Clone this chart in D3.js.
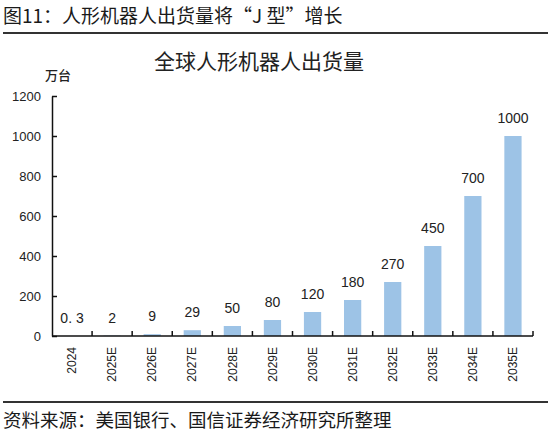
<!DOCTYPE html>
<html>
<head>
<meta charset="utf-8">
<script src="https://cdn.jsdelivr.net/npm/d3@7"></script>
<style>
  body { margin: 0; background: #fff; }
  svg { display: block; }
</style>
</head>
<body>
<div id="maincontent"></div>
<script>
var width = 550, height = 444;

// data
var categories = ["2024", "2025E", "2026E", "2027E", "2028E", "2029E", "2030E", "2031E", "2032E", "2033E", "2034E", "2035E"];
var shipments = [0.3, 2, 9, 29, 50, 80, 120, 180, 270, 450, 700, 1000];
var valueLabels = ["0. 3", "2", "9", "29", "50", "80", "120", "180", "270", "450", "700", "1000"];
var yTicks = [0, 200, 400, 600, 800, 1000, 1200];

var cjk = "'Noto Sans CJK SC', sans-serif";
var latin = "'Liberation Sans', Arial, sans-serif";

var svg = d3.select("#maincontent").append("svg")
    .attr("width", width)
    .attr("height", height);

// header + rules
svg.append("text")
    .attr("x", 3).attr("y", 23)
    .style("font-family", cjk).style("font-size", "19px").style("font-weight", 400)
    .attr("fill", "#1a1a1a")
    .text("图11：人形机器人出货量将“J 型”增长");

svg.append("line").attr("x1", 3).attr("x2", 548).attr("y1", 33).attr("y2", 33)
    .attr("stroke", "#333").attr("stroke-width", 2);

svg.append("line").attr("x1", 3).attr("x2", 548).attr("y1", 402).attr("y2", 402)
    .attr("stroke", "#333").attr("stroke-width", 2);

svg.append("text")
    .attr("x", 3).attr("y", 427)
    .style("font-family", cjk).style("font-size", "18.5px")
    .attr("fill", "#1a1a1a")
    .text("资料来源：美国银行、国信证券经济研究所整理");

// chart title
svg.append("text")
    .attr("x", 259).attr("y", 69)
    .attr("text-anchor", "middle")
    .style("font-family", cjk).style("font-size", "21px")
    .attr("fill", "#222")
    .text("全球人形机器人出货量");

svg.append("text")
    .attr("x", 45).attr("y", 80)
    .style("font-family", cjk).style("font-size", "13px").style("font-weight", 500)
    .attr("fill", "#222")
    .text("万台");

var x = d3.scaleBand()
    .domain(categories)
    .range([52, 533]);

var y = d3.scaleLinear()
    .domain([0, 1200])
    .range([336, 96]);

var barW = x.bandwidth() * 0.43;

svg.selectAll(".bar")
    .data(shipments)
    .enter().append("rect")
    .attr("class", "bar")
    .attr("x", function (d, i) { return x(categories[i]) + (x.bandwidth() - barW) / 2; })
    .attr("y", function (d) { return y(d); })
    .attr("width", barW)
    .attr("height", function (d) { return y(0) - y(d); })
    .attr("fill", "#9dc3e6");

svg.selectAll(".vlabel")
    .data(shipments)
    .enter().append("text")
    .attr("class", "vlabel")
    .attr("x", function (d, i) { return x(categories[i]) + x.bandwidth() / 2; })
    .attr("y", function (d) { return y(d) - 13; })
    .attr("text-anchor", "middle")
    .style("font-family", latin).style("font-size", "14px")
    .attr("fill", "#222")
    .text(function (d, i) { return valueLabels[i]; });

// y axis, ticks pointing inward
var yAxis = svg.append("g")
    .attr("transform", "translate(52,0)")
    .call(d3.axisLeft(y).tickValues(yTicks).tickFormat(d3.format("d"))
        .tickSizeInner(-5).tickSizeOuter(0).tickPadding(11));
yAxis.select(".domain").attr("stroke", "#111").attr("stroke-width", 1.5);
yAxis.selectAll(".tick line").attr("stroke", "#111").attr("stroke-width", 1.5);
yAxis.selectAll(".tick text")
    .style("font-family", latin).style("font-size", "13px").attr("fill", "#222");

// x axis line with ticks at category boundaries
var xAxis = svg.append("g");
xAxis.append("line")
    .attr("x1", x.range()[0]).attr("x2", x.range()[1])
    .attr("y1", y(0)).attr("y2", y(0))
    .attr("stroke", "#111").attr("stroke-width", 1.5);

var edges = categories.map(function (c) { return x(c); }).concat([x.range()[1]]);
xAxis.selectAll(".xtick")
    .data(edges.slice(1))
    .enter().append("line")
    .attr("class", "xtick")
    .attr("x1", function (d) { return d; }).attr("x2", function (d) { return d; })
    .attr("y1", y(0)).attr("y2", y(0) - 5)
    .attr("stroke", "#111").attr("stroke-width", 1.5);

xAxis.selectAll(".xlabel")
    .data(categories)
    .enter().append("text")
    .attr("class", "xlabel")
    .attr("transform", function (d) { return "translate(" + (x(d) + x.bandwidth() / 2) + "," + 347 + ")rotate(-90)"; })
    .attr("text-anchor", "end")
    .attr("dy", "0.35em")
    .style("font-family", latin).style("font-size", "12px")
    .attr("fill", "#222")
    .text(function (d) { return d; });
</script>
</body>
</html>
